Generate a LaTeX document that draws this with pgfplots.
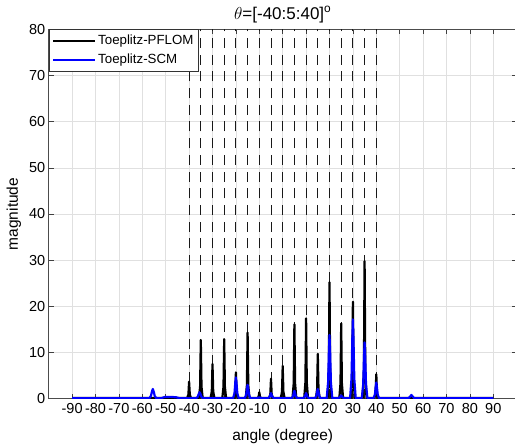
\documentclass[border=0pt]{standalone}
\usepackage{pgfplots}
\pgfplotsset{compat=1.18}
\usepackage{fontspec}
\setmainfont{Liberation Sans}
\usetikzlibrary{calc}
\definecolor{mblue}{RGB}{0,0,255}
\begin{document}
\begin{tikzpicture}
\begin{axis}[
  name=ax,
  scale only axis,
  width=468pt, height=369.4pt,
  xmin=-100, xmax=100, ymin=0, ymax=80,
  xtick={-90,-80,...,90},
  ytick={0,10,...,80},
  xtick pos=both, ytick pos=both,
  tick align=inside,
  major tick length=5pt,
  tick style={black!75, line width=0.6pt},
  axis line style={black!70, line width=0.6pt},
  grid=major,
  major grid style={black!12, line width=0.6pt},
  /pgf/number format/assume math mode=true,
  ticklabel style={font=\fontsize{14.5}{17}\selectfont},
  xticklabel style={yshift=-1pt},
  xlabel={angle (degree)},
  ylabel={magnitude},
  label style={font=\fontsize{15.5}{18}\selectfont},
  xlabel style={yshift=-9pt},
  ylabel style={yshift=1pt},
  title={$\theta$=[-40:5:40]\textsuperscript{o}},
  title style={font=\fontsize{17}{20}\selectfont, yshift=-3pt},
  legend style={at={(0,1)}, anchor=north west, draw=black!80, line width=0.6pt, fill=white,
    font=\fontsize{13.3}{16}\selectfont, inner xsep=3pt, inner ysep=3.5pt,
    row sep=4pt},
  legend cell align=left,
  legend image code/.code={\draw[#1] (0pt,0pt) -- (42pt,0pt);},
]
% angle markers
\addplot[ycomb, black!90, line width=0.9pt, dash pattern=on 10pt off 6.7pt, forget plot] coordinates {
(-40,80) (-35,80) (-30,80) (-25,80) (-20,80) (-15,80) (-10,80) (-5,80) (0,80)
(5,80) (10,80) (15,80) (20,80) (25,80) (30,80) (35,80) (40,80)};
% Toeplitz-PFLOM
\addplot[black, line width=2.2pt, line join=round] coordinates {
(-90,0.15) (-40.8,0.15) (-40.3,0.9) (-40,3.7) (-39.7,0.9) (-39.2,0.15)
(-35.8,0.15) (-35.3,2.6) (-35,12.7) (-34.7,2.6) (-34.2,0.15)
(-30.8,0.15) (-30.3,1.6) (-30,7.5) (-29.7,1.6) (-29.2,0.15)
(-25.8,0.15) (-25.3,2.6) (-25,12.9) (-24.7,2.6) (-24.2,0.15)
(-20.8,0.15) (-20.3,1.2) (-20,5.7) (-19.7,1.2) (-19.2,0.15)
(-15.8,0.15) (-15.3,2.9) (-15,14.3) (-14.7,2.9) (-14.2,0.15)
(-10.8,0.15) (-10.3,0.4) (-10,1.4) (-9.7,0.4) (-9.2,0.15)
(-5.8,0.15) (-5.3,0.9) (-5,4.3) (-4.7,0.9) (-4.2,0.15)
(-0.8,0.15) (-0.3,1.5) (0,7.1) (0.3,1.5) (0.8,0.15)
(4.2,0.15) (4.7,3.3) (5,16.1) (5.3,3.3) (5.8,0.15)
(9.2,0.15) (9.7,3.5) (10,17.4) (10.3,3.5) (10.8,0.15)
(14.2,0.15) (14.7,2.0) (15,9.7) (15.3,2.0) (15.8,0.15)
(19.2,0.15) (19.7,5.1) (20,25.2) (20.3,5.1) (20.8,0.15)
(24.2,0.15) (24.7,3.3) (25,16.3) (25.3,3.3) (25.8,0.15)
(29.2,0.15) (29.7,4.3) (30,21.0) (30.3,4.3) (30.8,0.15)
(34.2,0.15) (34.7,6.0) (35,29.8) (35.3,6.0) (35.8,0.15)
(39.2,0.15) (39.7,1.1) (40,5.3) (40.3,1.1) (40.8,0.15)
(90,0.15)};
\addlegendentry{Toeplitz-PFLOM}
% Toeplitz-SCM
\addplot[mblue, line width=2.2pt, line join=round] coordinates {
(-90,0.1) (-57,0.1) (-56.3,0.6) (-55.9,1.5) (-55.5,2.1) (-55.1,1.5) (-54.7,0.6) (-54,0.1)
(-52,0.1) (-50.5,0.35) (-48,0.4) (-45.5,0.3) (-44,0.1)
(-37,0.1) (-36.3,0.4) (-35.9,1.0) (-35.5,1.4) (-35.1,1.0) (-34.7,0.4) (-34,0.1)
(-21.2,0.1) (-20.6,1.2) (-20.25,3.5) (-20,4.6) (-19.75,3.5) (-19.4,1.2) (-18.8,0.1)
(-16.2,0.1) (-15.6,0.8) (-15.25,2.3) (-15,3.0) (-14.75,2.3) (-14.4,0.8) (-13.8,0.1)
(-11,0.1) (-10,0.3) (-9,0.1)
(-6.2,0.1) (-5.6,0.4) (-5.25,0.9) (-5,1.2) (-4.75,0.9) (-4.4,0.4) (-3.8,0.1)
(3.8,0.1) (4.4,0.5) (4.75,1.3) (5,1.7) (5.25,1.3) (5.6,0.5) (6.2,0.1)
(8.8,0.1) (9.4,0.4) (9.75,0.9) (10,1.2) (10.25,0.9) (10.6,0.4) (11.2,0.1)
(13.8,0.1) (14.4,0.6) (14.75,1.6) (15,2.1) (15.25,1.6) (15.6,0.6) (16.2,0.1)
(18.8,0.1) (19.4,3.5) (19.75,10.4) (20,13.8) (20.25,10.4) (20.6,3.5) (21.2,0.1)
(23.8,0.1) (24.4,0.3) (24.75,0.55) (25,0.7) (25.25,0.55) (25.6,0.3) (26.2,0.1)
(28.8,0.1) (29.4,4.3) (29.75,12.9) (30,17.2) (30.25,12.9) (30.6,4.3) (31.2,0.1)
(33.8,0.1) (34.4,3.1) (34.75,9.2) (35,12.2) (35.25,9.2) (35.6,3.1) (36.2,0.1)
(38.8,0.1) (39.4,0.9) (39.75,2.6) (40,3.5) (40.25,2.6) (40.6,0.9) (41.2,0.1)
(53.8,0.1) (54.5,0.5) (55,0.8) (55.5,0.5) (56.2,0.1)
(90,0.1)};
\addlegendentry{Toeplitz-SCM}
\end{axis}
\pgfresetboundingbox
\path[use as bounding box] ($(ax.south west)+(-48.7pt,-48.3pt)$) rectangle ($(ax.north east)+(-1.7pt,29.3pt)$);
\end{tikzpicture}
\end{document}
